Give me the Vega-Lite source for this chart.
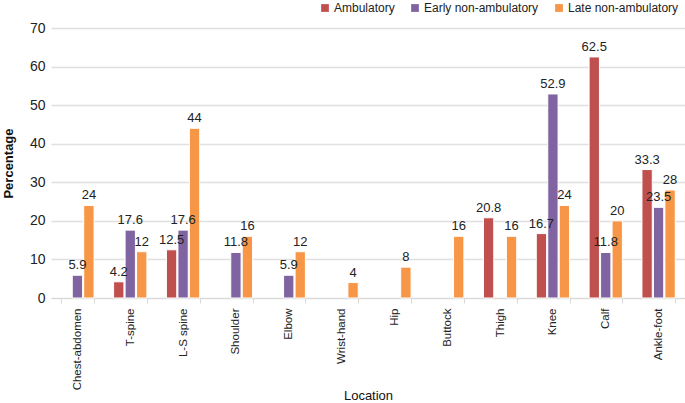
{
  "$schema": "https://vega.github.io/schema/vega-lite/v6.json",
  "autosize": {"type": "none"},
  "width": 634,
  "height": 270,
  "padding": {"left": 51, "top": 28, "right": 0, "bottom": 105},
  "background": "white",
  "config": {
    "font": "Liberation Sans",
    "view": {"stroke": null},
    "axis": {"labelFont": "Liberation Sans", "titleFont": "Liberation Sans", "labelColor": "#222", "titleColor": "#111"},
    "legend": {"labelFont": "Liberation Sans"}
  },
  "data": {
    "values": [
      {"loc": "Chest-abdomen", "group": "Early non-ambulatory", "v": 5.9},
      {"loc": "Chest-abdomen", "group": "Late non-ambulatory", "v": 24},
      {"loc": "T-spine", "group": "Ambulatory", "v": 4.2},
      {"loc": "T-spine", "group": "Early non-ambulatory", "v": 17.6},
      {"loc": "T-spine", "group": "Late non-ambulatory", "v": 12},
      {"loc": "L-S spine", "group": "Ambulatory", "v": 12.5},
      {"loc": "L-S spine", "group": "Early non-ambulatory", "v": 17.6},
      {"loc": "L-S spine", "group": "Late non-ambulatory", "v": 44},
      {"loc": "Shoulder", "group": "Early non-ambulatory", "v": 11.8},
      {"loc": "Shoulder", "group": "Late non-ambulatory", "v": 16},
      {"loc": "Elbow", "group": "Early non-ambulatory", "v": 5.9},
      {"loc": "Elbow", "group": "Late non-ambulatory", "v": 12},
      {"loc": "Wrist-hand", "group": "Late non-ambulatory", "v": 4},
      {"loc": "Hip", "group": "Late non-ambulatory", "v": 8},
      {"loc": "Buttock", "group": "Late non-ambulatory", "v": 16},
      {"loc": "Thigh", "group": "Ambulatory", "v": 20.8},
      {"loc": "Thigh", "group": "Late non-ambulatory", "v": 16},
      {"loc": "Knee", "group": "Ambulatory", "v": 16.7},
      {"loc": "Knee", "group": "Early non-ambulatory", "v": 52.9},
      {"loc": "Knee", "group": "Late non-ambulatory", "v": 24},
      {"loc": "Calf", "group": "Ambulatory", "v": 62.5},
      {"loc": "Calf", "group": "Early non-ambulatory", "v": 11.8},
      {"loc": "Calf", "group": "Late non-ambulatory", "v": 20},
      {"loc": "Ankle-foot", "group": "Ambulatory", "v": 33.3},
      {"loc": "Ankle-foot", "group": "Early non-ambulatory", "v": 23.5},
      {"loc": "Ankle-foot", "group": "Late non-ambulatory", "v": 28}
    ]
  },
  "encoding": {
    "x": {
      "field": "loc", "type": "nominal", "sort": null,
      "scale": {"paddingInner": 0.37, "paddingOuter": 0.185},
      "axis": {
        "title": "Location", "titleFontSize": 13, "titleFontWeight": "normal", "titlePadding": 0,
        "labelAngle": -90, "labelFontSize": 11.5, "labelPadding": 5,
        "tickBand": "extent", "tickColor": "#d9d9d9", "tickSize": 5,
        "domainColor": "#d9d9d9", "domainWidth": 1
      }
    },
    "xOffset": {"field": "group", "type": "nominal", "sort": ["Ambulatory", "Early non-ambulatory", "Late non-ambulatory"], "scale": {"paddingInner": 0.1}},
    "y": {
      "field": "v", "type": "quantitative",
      "scale": {"domain": [0, 70], "nice": false},
      "axis": {
        "title": "Percentage", "titleFontSize": 13, "titleFontWeight": "bold", "titlePadding": 14,
        "values": [0, 10, 20, 30, 40, 50, 60, 70],
        "labelFontSize": 14, "labelPadding": 6, "ticks": false, "domain": false,
        "gridColor": "#e0e0e0", "gridWidth": 1.5
      }
    }
  },
  "layer": [
    {
      "mark": {"type": "bar", "stroke": "white", "strokeWidth": 1},
      "encoding": {
        "color": {
          "field": "group", "type": "nominal",
          "scale": {"domain": ["Ambulatory", "Early non-ambulatory", "Late non-ambulatory"], "range": ["#c0504d", "#8064a2", "#f79646"]},
          "legend": {
            "title": null, "orient": "none", "direction": "horizontal", "legendX": 268, "legendY": -26,
            "symbolType": "square", "symbolSize": 60, "symbolStrokeWidth": 0, "labelFontSize": 12, "labelOffset": 3, "columnPadding": 14, "labelColor": "#222"
          }
        }
      }
    },
    {
      "mark": {"type": "text", "dy": -10, "fontSize": 13, "color": "#222"},
      "encoding": {"text": {"field": "v", "type": "quantitative"}}
    }
  ]
}
